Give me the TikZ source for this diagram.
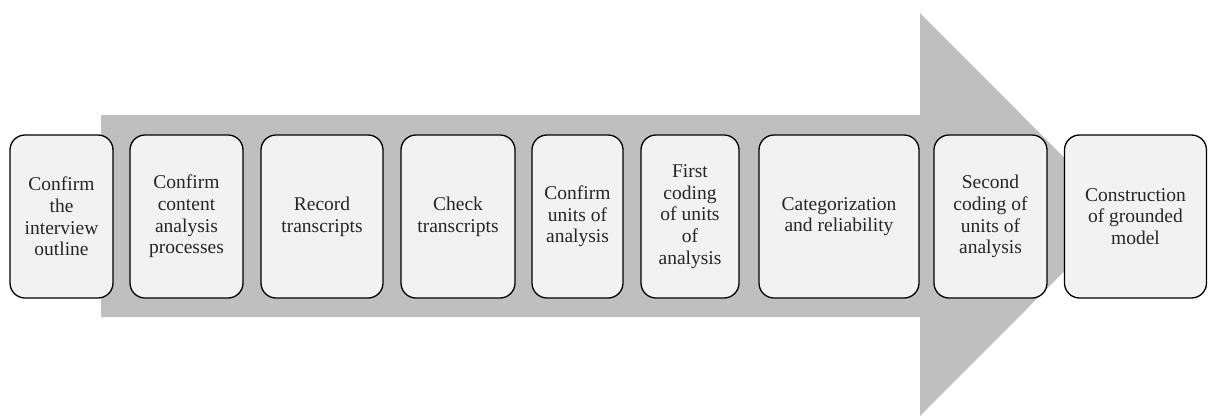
\documentclass[tikz,border=0pt]{standalone}
\usepackage{fontspec}
\setmainfont{Liberation Serif}
\definecolor{arrowgray}{HTML}{BFBFBF}
\definecolor{boxfill}{HTML}{F2F2F2}
\tikzset{
  stepbox/.style={draw=black, line width=1.3pt, fill=boxfill, rounded corners=15pt,
    minimum height=163pt, inner sep=0pt, align=center,
    font=\fontsize{19.5}{21.7}\selectfont, text=black!85}
}
\begin{document}
\begin{tikzpicture}[x=1pt,y=-1pt]
\useasboundingbox (0,0) rectangle (1208,416);
\fill[arrowgray] (101,115) -- (920,115) -- (920,13) -- (1121,214.5) -- (920,416) -- (920,317) -- (101,317) -- cycle;
\node[stepbox, minimum width=103pt] (b1) at (61.5,216.5) {Confirm\\the\\interview\\outline};
\node[stepbox, minimum width=113pt] (b2) at (186.5,216.5) {Confirm\\content\\analysis\\processes};
\node[stepbox, minimum width=122pt] (b3) at (322,216.5) {Record\\transcripts};
\node[stepbox, minimum width=114pt] (b4) at (458,216.5) {Check\\transcripts};
\node[stepbox, minimum width=91pt] (b5) at (577.5,216.5) {Confirm\\units of\\analysis};
\node[stepbox, minimum width=98pt] (b6) at (690,216.5) {First\\coding\\of units\\of\\analysis};
\node[stepbox, minimum width=160pt] (b7) at (839,216.5) {Categorization\\and reliability};
\node[stepbox, minimum width=113pt] (b8) at (990.5,216.5) {Second\\coding of\\units of\\analysis};
\node[stepbox, minimum width=142pt] (b9) at (1135.5,216.5) {Construction\\of grounded\\model};
\end{tikzpicture}
\end{document}
